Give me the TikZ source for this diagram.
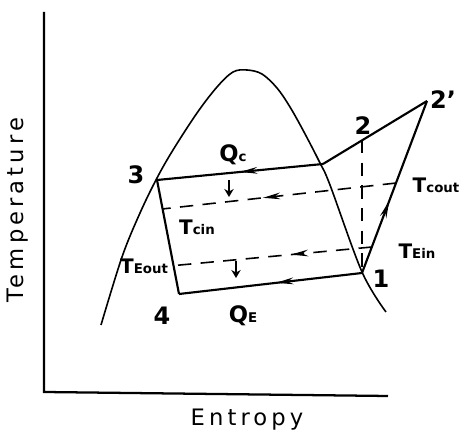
\documentclass[tikz,border=0pt]{standalone}
\usepackage{fontspec}
\setmainfont{DejaVu Sans}
\usepackage{xcolor}
\definecolor{inkcolor}{RGB}{0,0,0}
\usepackage{tikz}
\usetikzlibrary{arrows.meta,calc,decorations.markings}
\newcommand{\tlab}[1]{{\fontsize{15}{17}\selectfont T}{\fontsize{10}{12}\selectfont #1}}
\newcommand{\qlab}[1]{{\fontsize{17}{19}\selectfont Q}{\fontsize{10}{12}\selectfont #1}}

\begin{document}
\begin{tikzpicture}[x=0.75pt, y=-0.75pt,
    every node/.style={color=inkcolor, inner sep=1pt, font=\bfseries},
    axisline/.style={line width=1.7pt, color=inkcolor},
    domeline/.style={line width=1.2pt, color=inkcolor},
    cycleline/.style={line width=1.6pt, color=inkcolor},
    coolline/.style={line width=1.2pt, color=inkcolor, dash pattern=on 10pt off 7pt},
    flowarrow/.style={line width=1.5pt, color=inkcolor, -{Stealth[length=6pt,width=7pt]}},
    midarrow/.style={postaction={decorate}, decoration={markings,
        mark=at position #1 with {\arrow{Stealth[length=13pt,width=5pt]}}}},
    axislabel/.style={font=\fontsize{17}{20}\selectfont\addfontfeature{LetterSpace=18}},
    numlabel/.style={font=\fontsize{18}{20}\selectfont\bfseries}]
  \useasboundingbox (0,0) rectangle (465,441);
  \coordinate (ytop) at (44,12);
  \coordinate (origin) at (44,392);
  \coordinate (xend) at (388,396);
  \draw[axisline] (ytop) -- (origin) -- (xend);
  \node[axislabel, rotate=90] (templabel) at (18,210) {Temperature};
  \node[axislabel] (entlabel) at (247,420) {Entropy};

  \draw[domeline] plot[smooth, tension=0.55] coordinates {(101,325) (122,257) (140,213)
    (157,178) (173,150) (197,113) (217,87) (233,72) (247,70) (262,74) (277,88)
    (290,107) (304,132) (320,163) (330,185) (362,272) (386,312)};

  \coordinate (p3) at (157,180);
  \coordinate (pg) at (323,164);
  \coordinate (p2) at (362,140);
  \coordinate (p2s) at (427,101);
  \coordinate (p1) at (362,273);
  \coordinate (p4) at (179,294);
  \draw[cycleline] (p4) -- (p3);
  \draw[cycleline, midarrow=0.5] (pg) -- (p3);
  \draw[cycleline] (pg) -- (p2s);
  \draw[cycleline, midarrow=0.42] (p1) -- (p2s);
  \draw[cycleline, midarrow=0.47] (p1) -- (p4);
  \draw[coolline] (p2) -- (p1);

  \node[numlabel] (n3) at (136,175) {3};
  \node[numlabel] (n2) at (363,126) {2};
  \node[numlabel] (n2s) at (443,100) {2'};
  \node[numlabel] (n1) at (381,279) {1};
  \node[numlabel] (n4) at (162,316) {4};
  \node (qc) at (233,155) {\qlab{c}};
  \node (qe) at (243,316) {\qlab{E}};
  \node (tcout) at (436,185) {\tlab{cout}};
  \node (tcin) at (197,227) {\tlab{cin}};
  \node (teout) at (144,266) {\tlab{Eout}};
  \node (tein) at (417,251) {\tlab{Ein}};

  \coordinate (coutend) at ($(p1)!0.523!(p2s)$);
  \coordinate (cinend) at ($(p3)!0.254!(p4)$);
  \coordinate (einend) at ($(p1)!0.151!(p2s)$);
  \draw[coolline, midarrow=0.57] (coutend) -- (cinend);
  \draw[coolline, midarrow=0.4] (einend) -- (teout.east);

  \coordinate (qcflowtop) at (229,180);
  \coordinate (qcflowbot) at (229,197);
  \coordinate (qeflowtop) at (236,261);
  \coordinate (qeflowbot) at (236,278);
  \draw[flowarrow] (qcflowtop) -- (qcflowbot);
  \draw[flowarrow] (qeflowtop) -- (qeflowbot);
\end{tikzpicture}
\end{document}
